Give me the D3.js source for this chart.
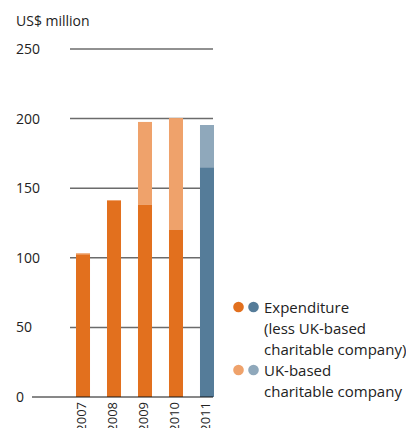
<!DOCTYPE html>
<html>
<head>
<meta charset="utf-8">
<script src="https://cdn.jsdelivr.net/npm/d3@7"></script>
<style>
  body { margin: 0; background: #fff; }
  svg { display: block; font-family: "Open Sans", "Noto Sans", sans-serif; }
</style>
</head>
<body>
<svg id="chart" width="406" height="428"></svg>
<script>
const years = ["2007", "2008", "2009", "2010", "2011"];
const expenditure = [102.5, 140.8, 138, 120, 165];   // less UK-based charitable company
const ukBased = [0.8, 0.7, 59.6, 80.4, 30.4];
const yTicks = [0, 50, 100, 150, 200, 250];
const legendLabels = [
  ["Expenditure", "(less UK-based", "charitable company)"],
  ["UK-based", "charitable company"]
];

const colors = {
  dark: "#e2701e",
  light: "#efa26b",
  darkBlue: "#557c99",
  lightBlue: "#8fa8bb",
};

const svg = d3.select("#chart");

const y = d3.scaleLinear().domain([0, 250]).range([397, 49]);
const x = d3.scaleBand().domain(years).range([60.5, 229.5]).paddingInner(0.548).paddingOuter(0.5);

// unit label
svg.append("text")
  .attr("x", 16).attr("y", 26)
  .attr("font-size", 14).attr("fill", "#222")
  .text("US$ million");

// gridlines
const grid = svg.append("g");
grid.selectAll("line")
  .data(yTicks.filter((d) => d > 0))
  .enter()
  .append("line")
  .attr("x1", 70).attr("x2", 213)
  .attr("y1", (d) => y(d)).attr("y2", (d) => y(d))
  .attr("stroke", (d) => (d === 250 ? "#222" : "#6b6b6b"))
  .attr("stroke-width", (d) => (d === 250 ? 1 : 1.5));

// tick labels
svg.append("g")
  .selectAll("text")
  .data(yTicks)
  .enter()
  .append("text")
  .attr("x", 16)
  .attr("y", (d) => y(d) + 5)
  .attr("font-size", 14).attr("fill", "#222")
  .text((d) => d);

// bars
const bars = svg.append("g");
years.forEach((yr, i) => {
  const last = i === years.length - 1;
  const base = expenditure[i];
  const top = base + ukBased[i];
  bars.append("rect")
    .attr("x", x(yr)).attr("width", x.bandwidth())
    .attr("y", y(top)).attr("height", y(base) - y(top))
    .attr("fill", last ? colors.lightBlue : colors.light);
  bars.append("rect")
    .attr("x", x(yr)).attr("width", x.bandwidth())
    .attr("y", y(base)).attr("height", y(0) - y(base))
    .attr("fill", last ? colors.darkBlue : colors.dark);
});

// baseline
svg.append("line")
  .attr("x1", 32).attr("x2", 213)
  .attr("y1", y(0)).attr("y2", y(0))
  .attr("stroke", "#111").attr("stroke-width", 1);

// year labels (rotated)
svg.append("g")
  .selectAll("text")
  .data(years)
  .enter()
  .append("text")
  .attr("transform", (d) => `translate(${x(d) + x.bandwidth() / 2 + 3}, 402) rotate(-90)`)
  .attr("text-anchor", "end")
  .attr("font-size", 13).attr("fill", "#222")
  .text((d) => d);

// legend
const legend = svg.append("g");
const legendDots = [[colors.dark, colors.darkBlue], [colors.light, colors.lightBlue]];
const legendY = [307, 370];
legendLabels.forEach((lines, i) => {
  legendDots[i].forEach((c, j) => {
    legend.append("circle")
      .attr("cx", 238.5 + j * 15).attr("cy", legendY[i])
      .attr("r", 5.3).attr("fill", c);
  });
  lines.forEach((t, k) => {
    legend.append("text")
      .attr("x", 264).attr("y", legendY[i] + 6 + k * 21)
      .attr("font-size", 15).attr("fill", "#222")
      .text(t);
  });
});
</script>
</body>
</html>
